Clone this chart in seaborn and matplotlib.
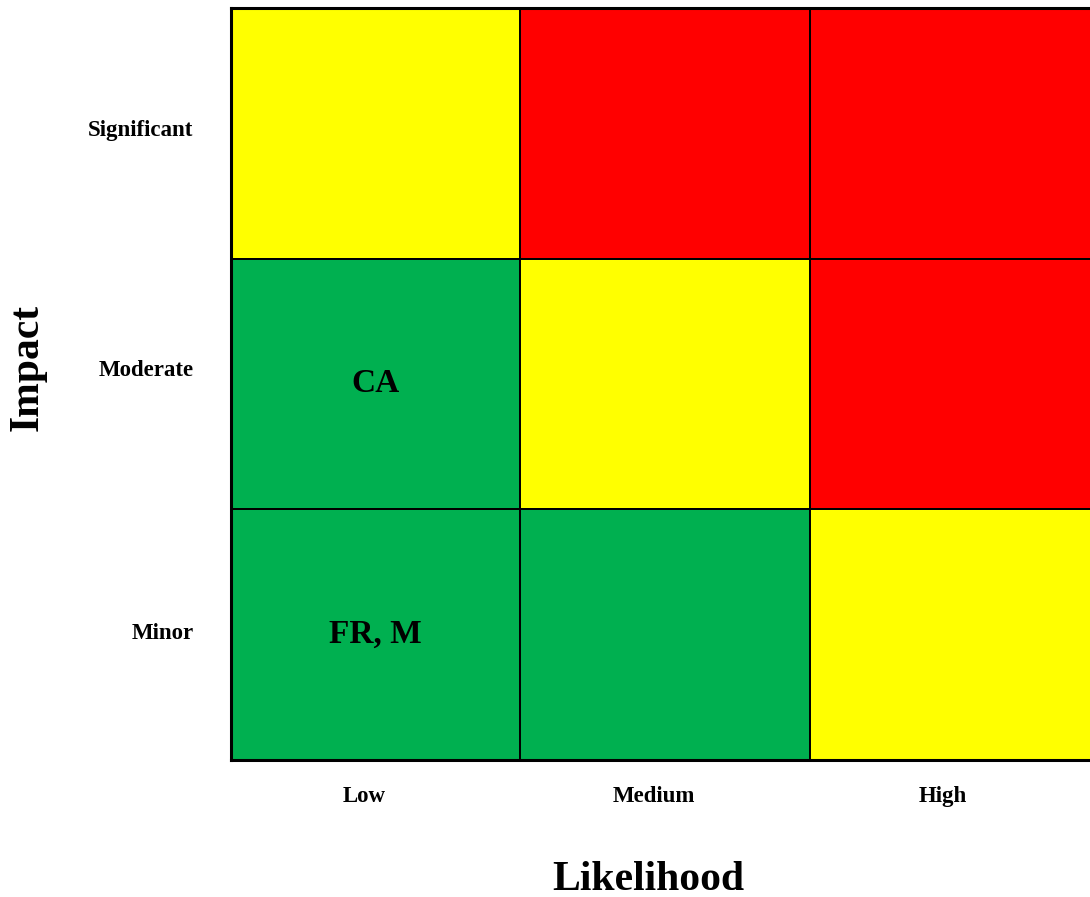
import numpy as np
import pandas as pd
import seaborn as sns
import matplotlib.pyplot as plt
from matplotlib.colors import ListedColormap

likelihood = ["Low", "Medium", "High"]
impact = ["Significant", "Moderate", "Minor"]
# risk level: 0 = low (green), 1 = medium (yellow), 2 = high (red)
risk_significant = [1, 2, 2]
risk_moderate = [0, 1, 2]
risk_minor = [0, 0, 1]
labels_significant = ["", "", ""]
labels_moderate = ["CA", "", ""]
labels_minor = ["FR, M", "", ""]

risk = pd.DataFrame([risk_significant, risk_moderate, risk_minor],
                    index=impact, columns=likelihood)
annot = np.array([labels_significant, labels_moderate, labels_minor])

serif = ["Liberation Serif", "DejaVu Serif"]
plt.rcParams['font.family'] = serif

fig = plt.figure(figsize=(10.9, 8.97), dpi=100)
W, H = 1090, 897
left, right, top, bottom = 231, 1099, 8, 760
ax = fig.add_axes([left / W, 1 - bottom / H, (right - left) / W, (bottom - top) / H])

cmap = ListedColormap(["#00B050", "#FFFF00", "#FF0000"])
sns.heatmap(risk, ax=ax, cmap=cmap, vmin=-0.5, vmax=2.5, cbar=False,
            annot=annot, fmt="", linewidths=1.2, linecolor="black",
            annot_kws=dict(fontsize=24, fontweight="bold", color="black"))

for s in ax.spines.values():
    s.set_visible(True)
    s.set_linewidth(2.2)
    s.set_color("black")

ax.set_xticks(np.arange(3) + 0.46)
ax.set_xticklabels(likelihood, fontsize=16.5, fontweight="bold")
ax.set_yticks(np.arange(3) + np.array([0.49, 0.445, 0.495]))
ax.set_yticklabels(impact, fontsize=16.5, fontweight="bold", rotation=0)
ax.tick_params(length=0)
ax.tick_params(axis="y", pad=27)
ax.tick_params(axis="x", pad=19)

ax.set_xlabel("Likelihood", fontsize=30, fontweight="bold")
ax.set_ylabel("Impact", fontsize=30, fontweight="bold")
# label centres in axes fraction
ax.xaxis.set_label_coords((648 - left) / (right - left), -(880 - bottom) / (bottom - top))
ax.xaxis.label.set_va("center")
ax.yaxis.set_label_coords(-(left - 28) / (right - left), (bottom - 368) / (bottom - top))
ax.yaxis.label.set_va("center")

fig.savefig("out.png", dpi=100)
